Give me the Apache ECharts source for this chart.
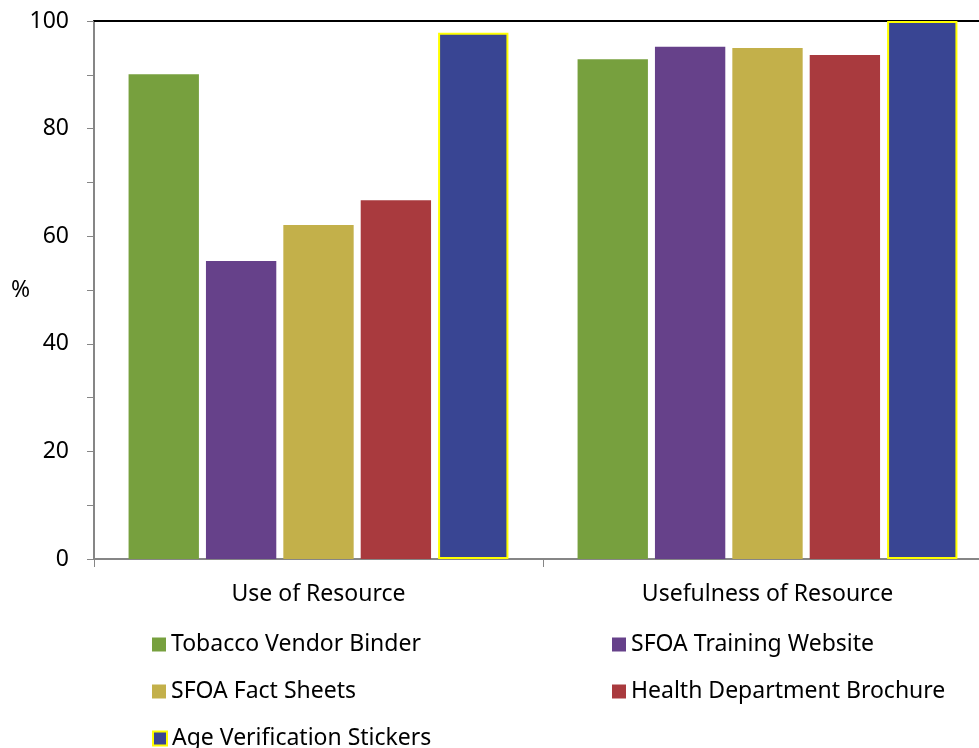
<!DOCTYPE html>
<html><head><meta charset="utf-8">
<script src="https://cdn.jsdelivr.net/npm/echarts@6/dist/echarts.min.js"></script>
<style>html,body{margin:0;padding:0;background:#fff;overflow:hidden}#c{width:992px;height:748px}</style>
</head><body><div id="c"></div>
<script>
const categories = ['Use of Resource', 'Usefulness of Resource'];
const seriesNames = ['Tobacco Vendor Binder', 'SFOA Training Website', 'SFOA Fact Sheets', 'Health Department Brochure', 'Age Verification Stickers'];
const tobaccoVendorBinder = [90.1, 92.9];
const sfoaTrainingWebsite = [55.4, 95.2];
const sfoaFactSheets = [62.1, 95.0];
const healthDeptBrochure = [66.7, 93.7];
const ageVerificationStickers = [97.8, 100];
const yTicks = [0, 20, 40, 60, 80, 100];

const values = [tobaccoVendorBinder, sfoaTrainingWebsite, sfoaFactSheets, healthDeptBrochure, ageVerificationStickers];
const colors = ['#77A03E', '#66418A', '#C3B04A', '#A93A3E', '#394593'];
const FONT = 'Noto Sans';
const FS = 23;

const chart = echarts.init(document.getElementById('c'), null, {renderer: 'canvas'});
const series = seriesNames.map((n, i) => ({
  name: n, type: 'bar', data: values[i],
  barGap: '10%', barCategoryGap: '15.4%',
  itemStyle: i === 4 ? {color: colors[i], borderColor: '#FFFF00', borderWidth: 2} : {color: colors[i]}
}));
const legendPos = [[152, 633], [612, 633], [152, 680], [612, 680], [152, 727]];
const legends = seriesNames.map((n, i) => ({
  data: [n], left: legendPos[i][0], top: legendPos[i][1],
  itemWidth: 14, itemHeight: 14, itemGap: 0, padding: 0,
  icon: 'rect', selectedMode: false,
  textStyle: {fontFamily: FONT, fontSize: FS, color: '#000', padding: [0,0,0,0]}
}));
chart.setOption({
  animation: false,
  backgroundColor: '#fff',
  textStyle: {fontFamily: FONT},
  grid: {left: 94, top: 21, right: 0, bottom: 189, containLabel: false},
  legend: legends,
  xAxis: [{
    type: 'category', data: categories,
    axisLine: {lineStyle: {color: '#868686', width: 2}},
    axisTick: {show: true, length: 8, lineStyle: {color: '#868686', width: 1}},
    axisLabel: {fontFamily: FONT, fontSize: FS, color: '#000', margin: 24}
  }, {
    type: 'category', data: categories, position: 'top',
    axisLine: {lineStyle: {color: '#000', width: 2}},
    axisTick: {show: false}, axisLabel: {show: false}
  }],
  yAxis: {
    type: 'value', min: 0, max: 100, interval: 10,
    name: '%', nameLocation: 'middle', nameGap: 64, nameRotate: 0, nameMoveOverlap: false,
    nameTextStyle: {fontFamily: FONT, fontSize: FS, color: '#000', padding: [5, 0, 0, 0]},
    axisLine: {show: true, lineStyle: {color: '#868686', width: 2}},
    axisTick: {show: true, length: 7, lineStyle: {color: '#868686', width: 1}},
    splitLine: {show: false},
    axisLabel: {fontFamily: FONT, fontSize: FS, color: '#000', margin: 25,
      formatter: v => yTicks.includes(v) ? String(v) : ''}
  },
  series: series
});
</script></body></html>
